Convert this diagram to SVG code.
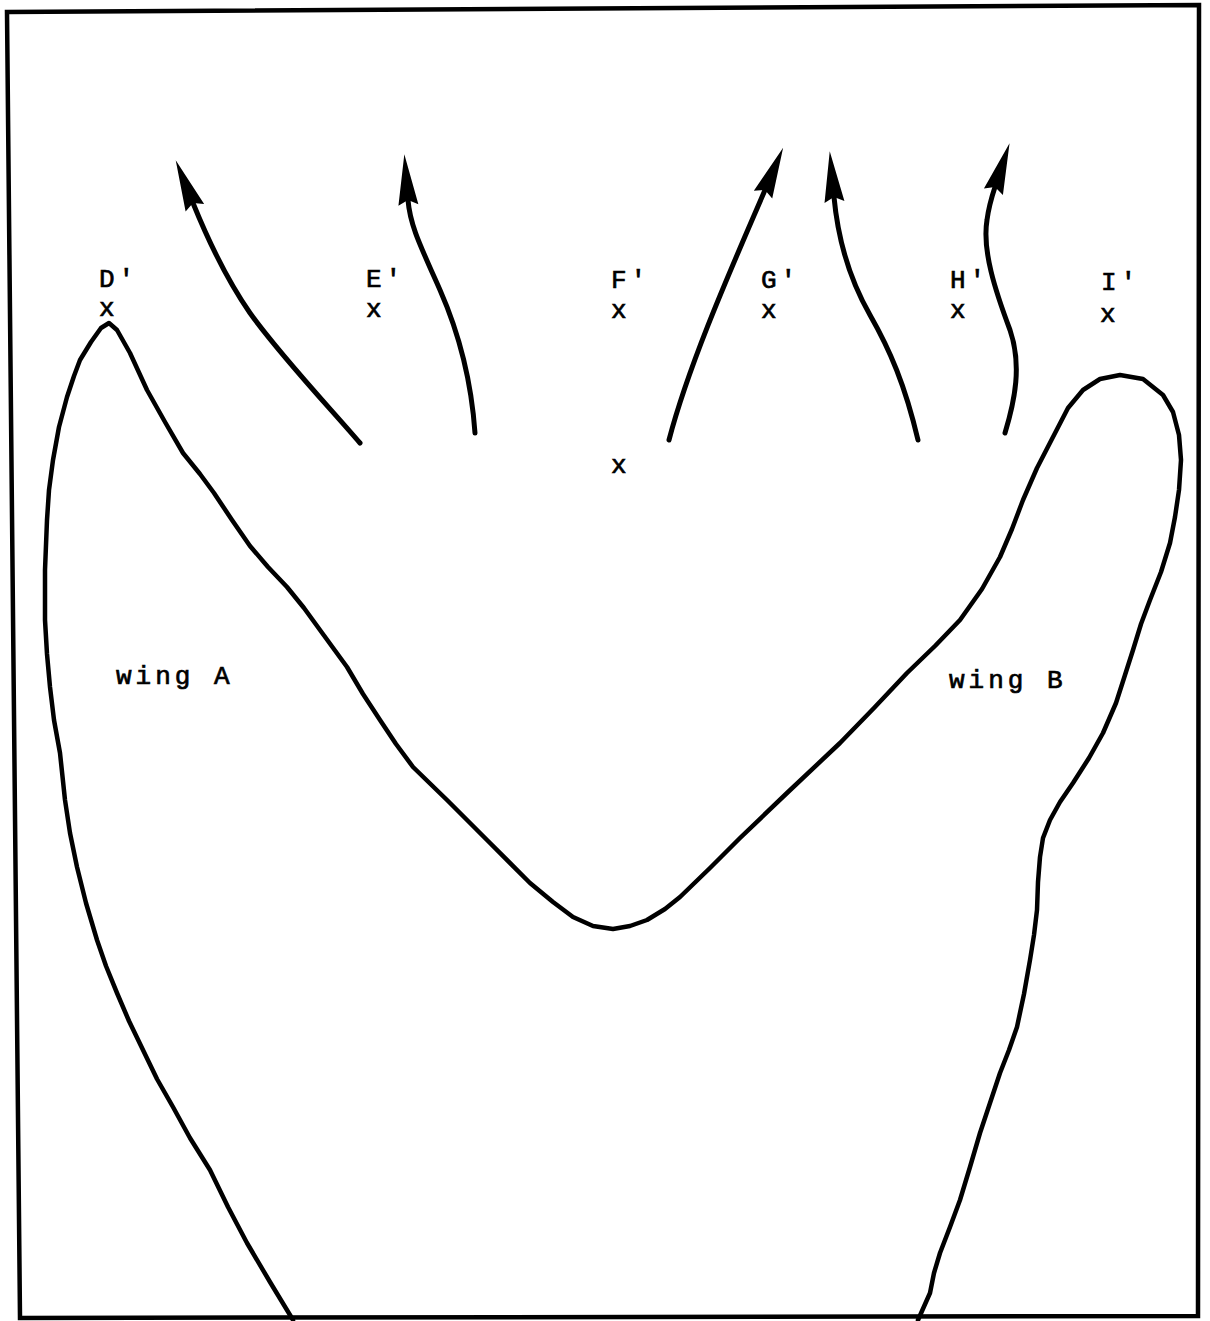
<svg xmlns="http://www.w3.org/2000/svg" width="1210" height="1321" viewBox="0 0 1210 1321">
<style>
.ln{fill:none;stroke:#000;stroke-width:4.5;stroke-linecap:round;stroke-linejoin:round}
.ar{fill:none;stroke:#000;stroke-width:5;stroke-linecap:round;stroke-linejoin:round;marker-end:url(#head)}
.t{font-family:"Liberation Mono","DejaVu Sans Mono",monospace;font-size:26px;letter-spacing:4px;fill:#000;stroke:#000;stroke-width:0.7}
</style>
<defs>
<marker id="head" markerUnits="userSpaceOnUse" viewBox="-10 -14 60 28" refX="0" refY="0" markerWidth="60" markerHeight="28" orient="auto" overflow="visible">
<path d="M46,0 L-5,-10 L0,0 L-5,10 Z" fill="#000"/>
</marker>
</defs>
<rect width="1210" height="1321" fill="#fff"/>
<g id="frame">
<path d="M7,12 L1199,5 L1198,1316 L20,1318 Z" fill="none" stroke="#000" stroke-width="4.5"/>
</g>
<g id="wing-outline">
<path class="ln" d="M293,1320 L270,1282 L247,1243 L228,1207 L210,1170 L190,1138 L173,1107 L157,1079 L143,1050 L129,1021 L117,993 L106,966 L97,940 L86,903 L77,867 L70,833 L65,800 L60,753 L54,720 L50,687 L47,654 L45,620 L45,570 L47,520 L49,490 L53,460 L59,427 L67,397 L74,376 L80,360 L91,342 L101,328 L109,323 L117,330 L130,353 L147,390 L165,422 L183,453 L200,474 L214,493 L232,520 L250,546 L268,567 L287,587 L304,608 L320,630 L347,667 L363,694 L380,720 L396,744 L413,767 L447,800 L487,840 L530,883 L553,902 L573,917 L593,926 L613,929 L630,926 L647,920 L665,909 L680,897 L710,868 L740,838 L787,793 L840,743 L874,708 L907,673 L935,646 L960,620 L982,589 L1000,557 L1012,529 L1023,500 L1037,468 L1053,437 L1068,408 L1083,390 L1100,379 L1120,375 L1143,379 L1163,395 L1173,412 L1179,435 L1181,460 L1179,490 L1175,517 L1170,543 L1161,572 L1150,600 L1141,624 L1133,650 L1125,675 L1116,703 L1103,733 L1089,758 L1073,783 L1060,802 L1050,820 L1043,838 L1040,857 L1038,882 L1037,910 L1034,935 L1030,960 L1024,994 L1017,1027 L1009,1050 L1000,1073 L990,1103 L980,1133 L970,1167 L960,1200 L950,1227 L940,1253 L934,1273 L930,1293 L918,1320"/>
</g>
<g id="connectors">
<path class="ar" d="M360,443 C330,408 280,355 250,313 C225,277 208,240 193,203"/>
<path class="ar" d="M475,433 C472,390 462,340 440,290 C420,245 410,225 408,200"/>
<path class="ar" d="M669,440 C690,360 735,260 765,190"/>
<path class="ar" d="M918,440 C905,385 890,350 870,315 C850,280 838,240 834,197"/>
<path class="ar" d="M1005,433 C1015,400 1022,365 1010,330 C995,290 982,250 987,220 C989,205 992,196 995,187"/>
</g>
<g id="node-D"><text class="t" x="99" y="287">D'</text><text class="t" x="99" y="316">x</text></g>
<g id="node-E"><text class="t" x="366" y="287">E'</text><text class="t" x="366" y="317">x</text></g>
<g id="node-F"><text class="t" x="611" y="288">F'</text><text class="t" x="611" y="318">x</text></g>
<g id="node-center"><text class="t" x="611" y="473">x</text></g>
<g id="node-G"><text class="t" x="761" y="288">G'</text><text class="t" x="761" y="318">x</text></g>
<g id="node-H"><text class="t" x="950" y="288">H'</text><text class="t" x="950" y="318">x</text></g>
<g id="node-I"><text class="t" x="1101" y="290">I'</text><text class="t" x="1100" y="322">x</text></g>
<g id="wing-A"><text class="t" x="116" y="684">wing A</text></g>
<g id="wing-B"><text class="t" x="949" y="688">wing B</text></g>
</svg>
